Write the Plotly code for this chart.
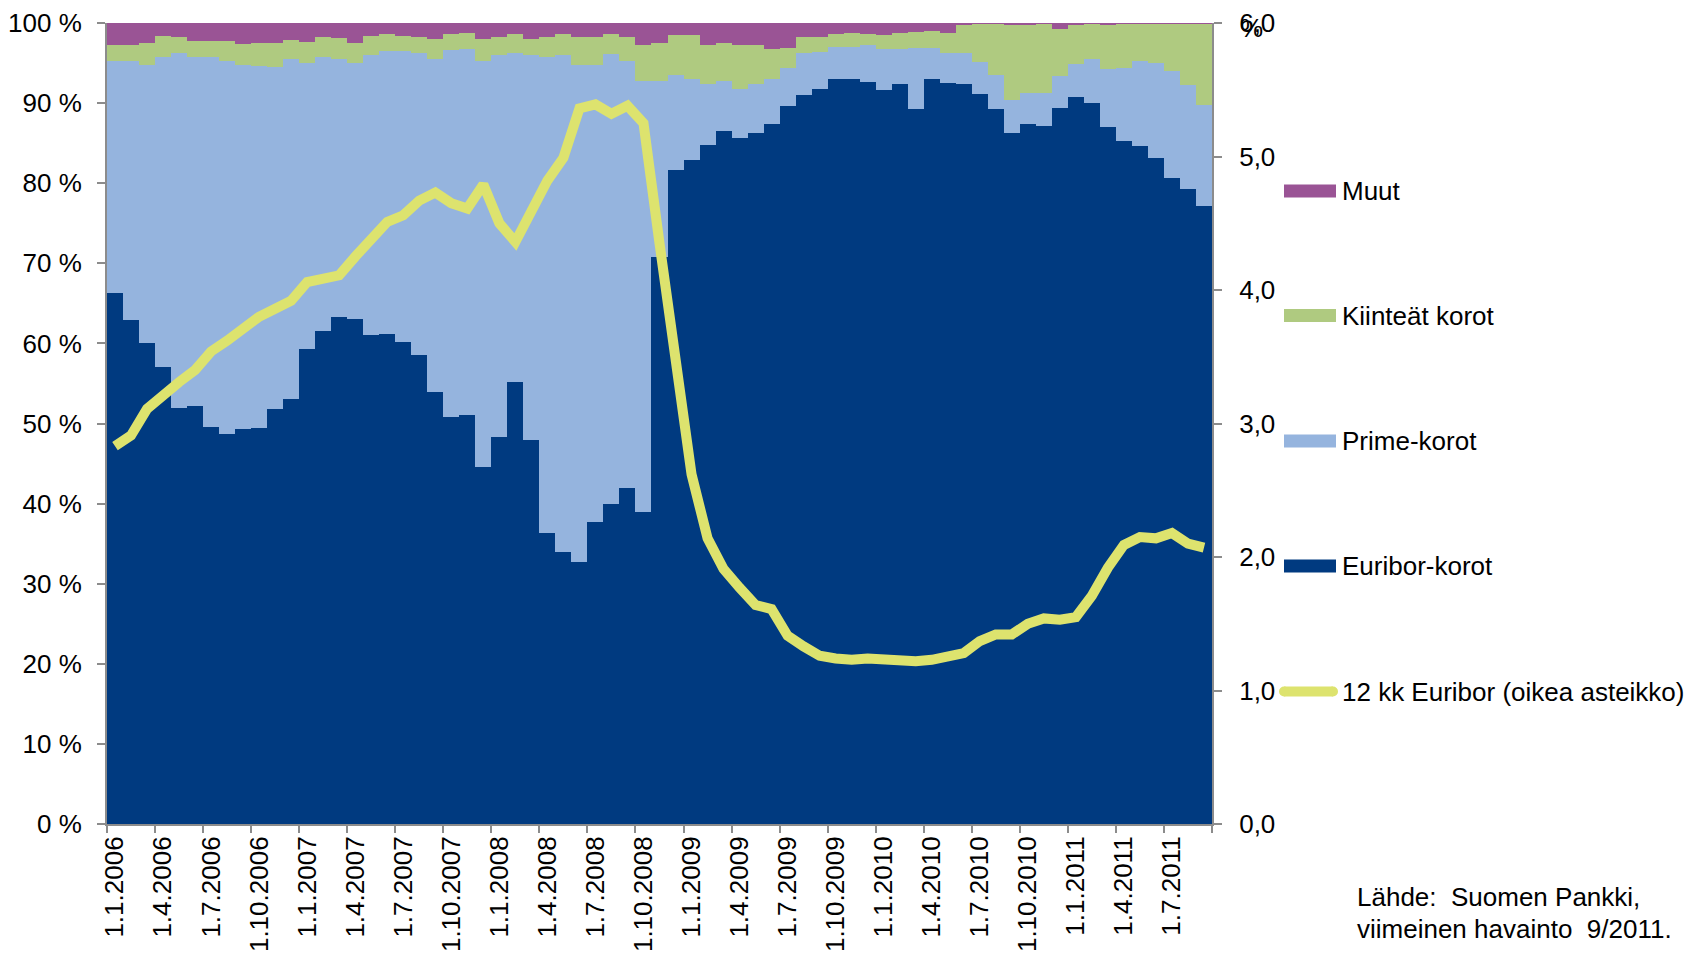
import plotly.graph_objects as go

# ---------------- data ----------------
months = [f"1.{m}.{y}" for y in range(2006, 2012) for m in range(1, 13)][:69]
tick_labels = ["1.1.2006", "1.4.2006", "1.7.2006", "1.10.2006",
               "1.1.2007", "1.4.2007", "1.7.2007", "1.10.2007",
               "1.1.2008", "1.4.2008", "1.7.2008", "1.10.2008",
               "1.1.2009", "1.4.2009", "1.7.2009", "1.10.2009",
               "1.1.2010", "1.4.2010", "1.7.2010", "1.10.2010",
               "1.1.2011", "1.4.2011", "1.7.2011"]

euribor_share = [66.3, 62.9, 60.0, 57.1, 51.9, 52.2, 49.6, 48.7, 49.3, 49.4, 51.8, 53.0,
                 59.3, 61.6, 63.3, 63.1, 61.0, 61.2, 60.2, 58.6, 53.9, 50.8, 51.1, 44.6,
                 48.3, 55.2, 48.0, 36.3, 34.0, 32.8, 37.7, 39.9, 42.0, 39.0, 70.8, 81.7,
                 82.9, 84.8, 86.5, 85.7, 86.3, 87.4, 89.7, 91.0, 91.7, 93.0, 93.0, 92.6,
                 91.6, 92.4, 89.3, 93.0, 92.5, 92.5, 91.1, 89.3, 86.3, 87.4, 87.0, 89.5,
                 90.7, 90.0, 87.0, 85.3, 84.6, 83.2, 80.6, 79.2, 77.2]
prime_share = [28.9, 32.3, 34.8, 38.6, 44.4, 43.6, 46.2, 46.6, 45.5, 45.2, 42.7, 42.5,
               35.7, 34.2, 32.2, 31.9, 35.0, 35.3, 36.3, 37.7, 41.6, 45.8, 45.7, 50.7,
               47.7, 41.0, 48.0, 59.4, 62.0, 62.0, 57.2, 56.2, 53.2, 53.8, 22.0, 11.8,
               10.1, 7.6, 6.2, 6.1, 6.1, 5.6, 4.7, 5.2, 4.7, 4.0, 4.0, 4.6,
               5.1, 4.4, 7.6, 3.9, 3.8, 3.8, 4.0, 4.2, 4.1, 3.9, 4.2, 4.0,
               4.2, 5.5, 7.2, 9.1, 10.7, 11.8, 13.4, 13.0, 12.6]
fixed_share = [2.1, 2.0, 2.7, 2.7, 1.9, 2.0, 2.0, 2.4, 2.6, 2.9, 3.0, 2.4,
               2.6, 2.4, 2.6, 2.5, 2.4, 2.1, 1.9, 2.0, 2.5, 2.0, 2.0, 2.7,
               2.3, 2.4, 2.0, 2.6, 2.6, 3.5, 3.4, 2.5, 3.0, 4.4, 4.7, 5.0,
               5.5, 4.9, 4.8, 5.4, 4.9, 3.8, 2.5, 2.0, 1.9, 1.6, 1.7, 1.4,
               1.8, 2.0, 2.0, 2.1, 2.5, 3.6, 4.8, 6.4, 9.4, 8.5, 8.6, 5.8,
               4.9, 4.4, 5.6, 5.5, 4.6, 4.9, 5.9, 7.6, 10.1]
other_share = [2.7, 2.8, 2.5, 1.6, 1.8, 2.2, 2.2, 2.3, 2.6, 2.5, 2.5, 2.1,
               2.4, 1.8, 1.9, 2.5, 1.6, 1.4, 1.6, 1.7, 2.0, 1.4, 1.2, 2.0,
               1.7, 1.4, 2.0, 1.7, 1.4, 1.8, 1.8, 1.4, 1.8, 2.8, 2.5, 1.5,
               1.5, 2.7, 2.5, 2.8, 2.7, 3.2, 3.1, 1.8, 1.7, 1.4, 1.3, 1.4,
               1.5, 1.2, 1.1, 1.0, 1.2, 0.2, 0.1, 0.1, 0.2, 0.2, 0.1, 0.8,
               0.2, 0.1, 0.2, 0.1, 0.1, 0.1, 0.1, 0.1, 0.1]
euribor_12m = [2.83, 2.91, 3.11, 3.22, 3.31, 3.40, 3.54, 3.62, 3.72, 3.80, 3.86, 3.92,
               4.06, 4.09, 4.11, 4.25, 4.37, 4.51, 4.56, 4.67, 4.73, 4.65, 4.61, 4.79,
               4.50, 4.36, 4.59, 4.82, 4.99, 5.36, 5.39, 5.32, 5.38, 5.25, 4.35, 3.45,
               2.62, 2.14, 1.91, 1.77, 1.64, 1.61, 1.41, 1.33, 1.26, 1.24, 1.23, 1.24,
               1.23, 1.23, 1.22, 1.23, 1.25, 1.28, 1.37, 1.42, 1.42, 1.50, 1.54, 1.53,
               1.55, 1.71, 1.92, 2.09, 2.15, 2.14, 2.18, 2.10, 2.07]

series_names = ["Euribor-korot", "Prime-korot", "Kiinteät korot", "Muut"]
line_name = "12 kk Euribor (oikea asteikko)"

# ---------------- style ----------------
C_EUR = "#003A80"
C_PRIME = "#95B4DE"
C_FIXED = "#AFCA80"
C_OTHER = "#9A5495"
C_LINE = "#DDE36E"
AX = "#8C8C8C"
FONT = "Liberation Sans, Arial, sans-serif"
FS = 26

# page is offset by the default 8px body margin
OFF = 8
W, H = 1694 - OFF, 957 - OFF
PL, PR, PT, PB = 107, 1212, 23, 824   # plot area in page pixels


def xp(px):
    return (px - PL) / (PR - PL)


def yp(py):
    return (PB - py) / (PB - PT)


fig = go.Figure()
for vals, name, col in zip([euribor_share, prime_share, fixed_share, other_share],
                           series_names, [C_EUR, C_PRIME, C_FIXED, C_OTHER]):
    fig.add_trace(go.Bar(x=months, y=vals, name=name, marker=dict(color=col, line=dict(width=0)),
                         showlegend=False))

month_pos = list(range(len(months)))
fig.add_trace(go.Scatter(x=month_pos, y=euribor_12m, name=line_name, xaxis="x2", yaxis="y2",
                         mode="lines", line=dict(color=C_LINE, width=10), showlegend=False))

# ---------------- manual legend ----------------
shapes = []
annotations = []
legend_rows = [("Muut", C_OTHER, 191), ("Kiinteät korot", C_FIXED, 315.5),
               ("Prime-korot", C_PRIME, 441), ("Euribor-korot", C_EUR, 566)]
for label, col, cy in legend_rows:
    shapes.append(dict(type="rect", xref="paper", yref="paper",
                       x0=xp(1284), x1=xp(1336), y0=yp(cy + 6.5), y1=yp(cy - 6.5),
                       fillcolor=col, line=dict(width=0)))
    annotations.append(dict(text=label, xref="paper", yref="paper", x=xp(1340), y=yp(cy),
                            xanchor="left", yanchor="middle", showarrow=False,
                            font=dict(family=FONT, size=FS, color="black")))
ly = 691.5
shapes.append(dict(type="line", xref="paper", yref="paper", x0=xp(1284), x1=xp(1333),
                   y0=yp(ly), y1=yp(ly), line=dict(color=C_LINE, width=10)))
for cx in (1284, 1333):
    shapes.append(dict(type="circle", xref="paper", yref="paper",
                       x0=xp(cx - 5), x1=xp(cx + 5), y0=yp(ly + 5), y1=yp(ly - 5),
                       fillcolor=C_LINE, line=dict(width=0)))
annotations.append(dict(text=line_name, xref="paper", yref="paper", x=xp(1340), y=yp(ly),
                        xanchor="left", yanchor="middle", showarrow=False,
                        font=dict(family=FONT, size=FS, color="black")))

# "%" unit on right axis
annotations.append(dict(text="%", xref="paper", yref="paper", x=xp(1238), y=yp(28),
                        xanchor="left", yanchor="middle", showarrow=False,
                        font=dict(family=FONT, size=FS, color="black")))
# source
annotations.append(dict(text="Lähde:\u00a0 Suomen Pankki,", xref="paper", yref="paper",
                        x=xp(1355), y=yp(897), xanchor="left", yanchor="middle", showarrow=False,
                        font=dict(family=FONT, size=FS, color="black")))
annotations.append(dict(text="viimeinen havainto\u00a0 9/2011.", xref="paper", yref="paper",
                        x=xp(1355), y=yp(929), xanchor="left", yanchor="middle", showarrow=False,
                        font=dict(family=FONT, size=FS, color="black")))

boundary_ticks = [i * 3 - 0.5 for i in range(24)]

fig.update_layout(
    width=W, height=H,
    margin=dict(l=PL - OFF, r=W - (PR - OFF), t=PT - OFF, b=H - (PB - OFF), autoexpand=False),
    paper_bgcolor="white", plot_bgcolor="white",
    barmode="stack", barnorm="percent", bargap=0,
    separators=", ",
    font=dict(family=FONT, size=FS, color="black"),
    xaxis=dict(type="category", range=[-0.5, 68.5], tickvals=tick_labels, ticktext=tick_labels,
               tickangle=-90, ticks="", showline=True, linecolor=AX, linewidth=2,
               showgrid=False, zeroline=False, tickfont=dict(family=FONT, size=FS)),
    xaxis2=dict(overlaying="x", anchor="y", side="bottom", range=[-0.5, 68.5],
                tickmode="array", tickvals=boundary_ticks, ticks="outside", ticklen=8,
                tickcolor=AX, tickwidth=2, showticklabels=False, showline=False,
                showgrid=False, zeroline=False),
    yaxis=dict(range=[0, 100], dtick=10, ticksuffix=" %", ticks="outside", ticklen=8,
               tickcolor=AX, tickwidth=2, showline=True, linecolor=AX, linewidth=2,
               showgrid=False, zeroline=False, ticklabelstandoff=10),
    yaxis2=dict(range=[0, 6], dtick=1, tickformat=".1f", overlaying="y", side="right",
                ticks="outside", ticklen=8, tickcolor=AX, tickwidth=2, showline=True,
                linecolor=AX, linewidth=2, showgrid=False, zeroline=False,
                ticklabelstandoff=12),
    shapes=shapes,
    annotations=annotations,
)

fig.write_html("out.html")
